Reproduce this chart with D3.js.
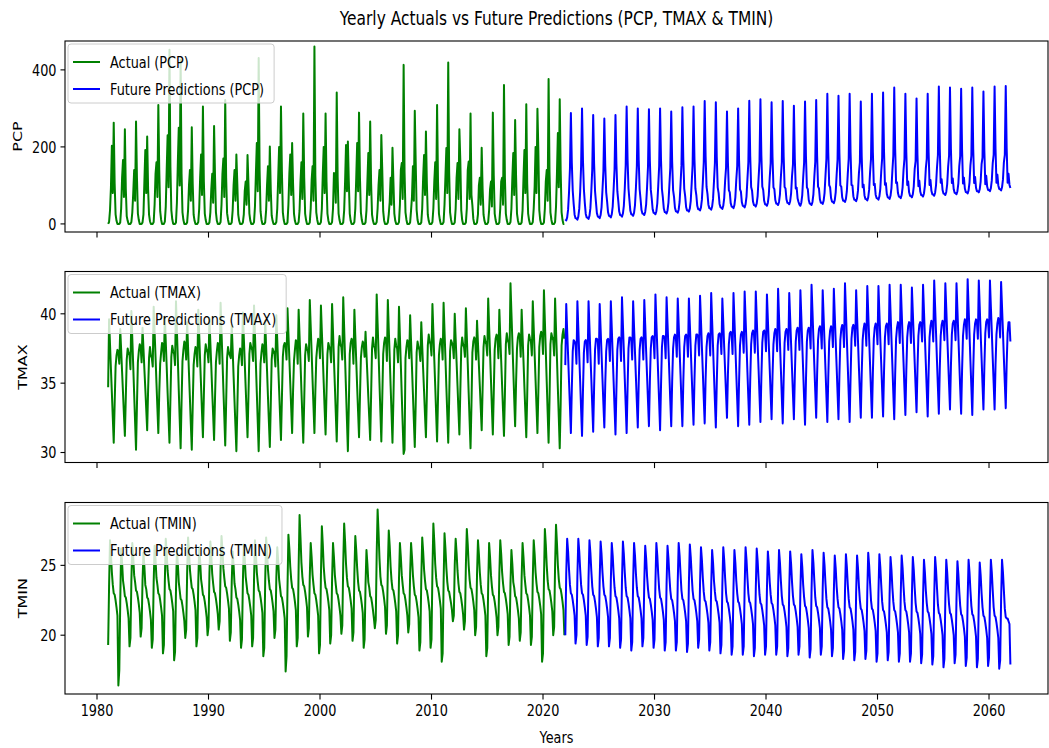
<!DOCTYPE html>
<html>
<head>
<meta charset="utf-8">
<script src="https://cdn.jsdelivr.net/npm/d3@7"></script>
<style>
body { margin: 0; background: #fff; }
svg { display: block; font-family: "DejaVu Sans", sans-serif; }
</style>
</head>
<body>
<script>
(function () {
'use strict';

// monthly series, one row per year (Jan..Dec)
var actualStart = 1981;
var futureStart = 2022;
var yearTicks = [1980, 1990, 2000, 2010, 2020, 2030, 2040, 2050, 2060];

var pcpActual = [
  0, 5, 35, 95, 203, 80, 263, 105, 25, 8, 0, 0,
  0, 4, 40, 120, 166, 70, 246, 90, 20, 8, 0, 0,
  0, 5, 30, 80, 140, 60, 266, 120, 27, 10, 0, 0,
  0, 4, 25, 110, 192, 80, 227, 90, 24, 7, 0, 0,
  0, 5, 50, 130, 160, 70, 309, 140, 33, 11, 0, 0,
  0, 6, 45, 140, 230, 95, 452, 150, 36, 12, 0, 0,
  0, 4, 55, 160, 250, 100, 426, 130, 30, 10, 0, 0,
  0, 4, 35, 100, 140, 60, 251, 105, 24, 8, 0, 0,
  0, 5, 40, 120, 180, 75, 305, 110, 27, 10, 0, 0,
  0, 4, 30, 90, 130, 55, 254, 125, 30, 8, 0, 0,
  0, 5, 50, 130, 170, 70, 322, 120, 28, 11, 0, 0,
  0, 4, 35, 100, 140, 60, 180, 105, 24, 8, 0, 0,
  0, 4, 25, 85, 110, 50, 179, 105, 27, 8, 0, 0,
  0, 5, 45, 130, 210, 85, 431, 140, 33, 11, 0, 0,
  0, 4, 35, 100, 150, 60, 201, 90, 22, 8, 0, 0,
  0, 5, 40, 120, 200, 80, 305, 135, 30, 10, 0, 0,
  0, 4, 50, 130, 180, 75, 210, 105, 27, 8, 0, 0,
  0, 5, 35, 110, 160, 65, 287, 120, 27, 10, 0, 0,
  0, 4, 40, 114, 150, 60, 461, 125, 30, 11, 0, 0,
  0, 5, 40, 130, 200, 80, 287, 110, 27, 9, 0, 0,
  0, 5, 40, 132, 130, 55, 341, 120, 27, 10, 0, 0,
  0, 4, 35, 110, 205, 85, 214, 110, 27, 8, 0, 0,
  0, 5, 40, 120, 210, 85, 289, 120, 30, 10, 0, 0,
  0, 4, 35, 110, 184, 75, 266, 105, 24, 8, 0, 0,
  0, 5, 40, 100, 140, 60, 231, 140, 33, 9, 0, 0,
  0, 4, 25, 57, 120, 50, 198, 110, 27, 8, 0, 0,
  0, 5, 50, 140, 158, 65, 413, 135, 30, 11, 0, 0,
  0, 4, 35, 71, 150, 60, 294, 160, 36, 10, 0, 0,
  0, 4, 40, 120, 179, 75, 240, 105, 24, 8, 0, 0,
  0, 5, 40, 110, 160, 65, 309, 110, 27, 10, 0, 0,
  0, 5, 50, 123, 197, 80, 419, 135, 30, 11, 0, 0,
  0, 4, 40, 120, 158, 65, 246, 165, 36, 10, 0, 0,
  0, 4, 40, 140, 162, 65, 287, 75, 48, 13, 0, 0,
  0, 4, 25, 100, 120, 50, 198, 90, 24, 8, 0, 0,
  0, 5, 35, 90, 110, 45, 289, 125, 27, 10, 0, 0,
  0, 4, 40, 110, 120, 50, 361, 120, 27, 10, 0, 0,
  0, 5, 40, 120, 184, 75, 270, 125, 27, 9, 0, 0,
  0, 4, 35, 120, 192, 80, 311, 105, 27, 10, 0, 0,
  0, 5, 40, 97, 200, 80, 299, 190, 36, 10, 0, 0,
  0, 4, 40, 110, 140, 60, 376, 135, 30, 11, 0, 0,
  0, 5, 45, 130, 236, 95, 324, 140, 30, 10, 0, 0
];

var pcpFuture = [
  12, 9, 17, 37, 82, 144, 288, 158, 86, 52, 24, 15,
  14, 11, 19, 39, 84, 150, 300, 165, 90, 54, 26, 17,
  16, 13, 21, 41, 86, 142, 283, 156, 85, 56, 28, 19,
  18, 15, 23, 43, 88, 137, 274, 151, 82, 58, 30, 21,
  20, 17, 25, 45, 90, 142, 283, 156, 85, 60, 32, 23,
  22, 19, 27, 47, 92, 153, 305, 168, 92, 62, 34, 25,
  24, 21, 29, 49, 94, 150, 300, 165, 90, 64, 36, 27,
  26, 23, 31, 51, 96, 149, 298, 164, 89, 66, 38, 29,
  28, 25, 33, 53, 98, 150, 300, 165, 90, 68, 40, 31,
  30, 27, 35, 55, 100, 146, 292, 161, 88, 70, 42, 33,
  32, 29, 37, 57, 102, 152, 303, 167, 91, 72, 44, 35,
  35, 32, 40, 60, 105, 153, 305, 168, 92, 75, 47, 38,
  38, 35, 43, 63, 108, 160, 319, 175, 96, 78, 50, 41,
  40, 37, 45, 65, 110, 158, 316, 174, 95, 80, 52, 43,
  42, 39, 47, 67, 112, 146, 292, 161, 88, 82, 54, 45,
  44, 41, 49, 69, 114, 150, 300, 165, 90, 84, 56, 47,
  46, 43, 51, 71, 116, 160, 320, 176, 96, 86, 58, 49,
  48, 45, 53, 73, 118, 162, 324, 178, 97, 88, 60, 51,
  50, 47, 55, 75, 120, 158, 316, 174, 95, 90, 62, 53,
  52, 49, 57, 77, 122, 160, 319, 175, 96, 92, 64, 55,
  54, 51, 59, 79, 124, 154, 307, 169, 92, 94, 66, 57,
  50, 47, 55, 75, 120, 159, 318, 175, 95, 90, 62, 53,
  52, 49, 57, 77, 122, 161, 322, 177, 97, 92, 64, 55,
  55, 52, 60, 80, 125, 169, 338, 186, 101, 95, 67, 58,
  57, 54, 62, 82, 127, 167, 333, 183, 100, 97, 69, 60,
  60, 57, 65, 85, 130, 169, 338, 186, 101, 100, 72, 63,
  62, 59, 67, 87, 132, 159, 318, 175, 95, 102, 74, 65,
  64, 61, 69, 89, 134, 169, 338, 186, 101, 104, 76, 67,
  66, 63, 71, 91, 136, 171, 341, 188, 102, 106, 78, 69,
  68, 65, 73, 93, 138, 177, 354, 195, 106, 108, 80, 71,
  70, 67, 75, 95, 140, 169, 338, 186, 101, 110, 82, 73,
  72, 69, 77, 97, 142, 163, 326, 179, 98, 112, 84, 75,
  74, 71, 79, 99, 144, 169, 338, 186, 101, 114, 86, 77,
  76, 73, 81, 101, 146, 179, 357, 196, 107, 116, 88, 79,
  78, 75, 83, 103, 148, 177, 354, 195, 106, 118, 90, 81,
  80, 77, 85, 105, 150, 176, 351, 193, 105, 120, 92, 83,
  82, 79, 87, 107, 152, 177, 354, 195, 106, 122, 94, 85,
  85, 82, 90, 110, 155, 172, 344, 189, 103, 125, 97, 88,
  88, 85, 93, 113, 158, 179, 357, 196, 107, 128, 100, 91,
  90, 87, 95, 115, 160, 179, 358, 197, 107, 130, 102, 93
];

var tmaxActual = [
  34.7, 39.6, 37.8, 36.0, 34.3, 32.5, 30.7, 33.5, 36.2, 37.0, 37.4, 37.2,
  36.4, 38.9, 37.4, 35.8, 34.3, 32.7, 31.2, 34.0, 36.7, 37.5, 37.2, 37.0,
  36.0, 40.2, 38.2, 36.2, 34.2, 32.2, 30.2, 33.4, 36.5, 37.3, 37.8, 37.6,
  36.5, 39.0, 37.5, 36.0, 34.6, 33.1, 31.6, 34.5, 36.8, 37.6, 37.0, 36.8,
  36.2, 40.5, 38.7, 36.9, 35.0, 33.2, 31.4, 34.3, 36.4, 37.2, 37.9, 37.7,
  36.6, 39.8, 38.0, 36.2, 34.3, 32.5, 30.7, 33.8, 36.9, 37.7, 37.3, 37.1,
  36.3, 40.9, 38.8, 36.7, 34.5, 32.4, 30.3, 33.6, 36.6, 37.4, 38.0, 37.8,
  36.7, 39.4, 37.6, 35.7, 33.9, 32.0, 30.2, 33.3, 36.3, 37.1, 37.6, 37.4,
  36.2, 40.3, 38.5, 36.6, 34.8, 32.9, 31.1, 34.1, 37.0, 37.8, 37.4, 37.2,
  36.5, 39.7, 37.9, 36.2, 34.4, 32.7, 30.9, 33.9, 36.5, 37.3, 37.9, 37.7,
  36.4, 40.8, 38.7, 36.7, 34.6, 32.6, 30.5, 33.6, 36.8, 37.6, 37.2, 37.0,
  36.8, 39.2, 37.4, 35.5, 33.7, 31.9, 30.1, 33.1, 36.2, 37.0, 37.5, 37.3,
  36.3, 40.1, 38.3, 36.5, 34.7, 32.9, 31.1, 34.1, 37.1, 37.9, 37.6, 37.4,
  36.6, 40.6, 38.5, 36.4, 34.3, 32.2, 30.1, 33.2, 36.4, 37.2, 37.8, 37.6,
  36.5, 39.5, 37.7, 35.9, 34.0, 32.2, 30.4, 33.4, 36.7, 37.5, 37.3, 37.1,
  36.2, 39.9, 38.1, 36.3, 34.5, 32.7, 30.9, 33.9, 36.9, 37.7, 37.9, 37.7,
  36.7, 40.4, 38.6, 36.8, 35.0, 33.2, 31.4, 34.4, 36.6, 37.4, 38.1, 37.9,
  36.4, 40.3, 38.4, 36.5, 34.5, 32.6, 30.7, 33.7, 37.0, 37.8, 37.5, 37.3,
  36.6, 41.0, 39.1, 37.2, 35.2, 33.3, 31.4, 34.4, 36.8, 37.6, 38.2, 38.0,
  36.8, 40.6, 38.7, 36.9, 35.0, 33.1, 31.3, 34.3, 37.1, 37.9, 37.6, 37.4,
  36.5, 40.7, 38.7, 36.7, 34.8, 32.8, 30.8, 33.8, 37.6, 38.4, 37.8, 37.6,
  36.7, 41.2, 39.0, 36.7, 34.5, 32.3, 30.1, 33.3, 37.1, 37.9, 38.2, 38.0,
  36.4, 40.3, 38.4, 36.6, 34.7, 32.9, 31.1, 34.0, 36.8, 37.6, 38.0, 37.8,
  36.9, 38.7, 37.1, 35.6, 34.0, 32.5, 30.9, 34.1, 37.5, 38.3, 37.7, 37.5,
  36.8, 41.4, 39.3, 37.2, 35.0, 32.9, 30.8, 33.9, 37.1, 37.9, 38.3, 38.1,
  36.6, 41.0, 38.9, 36.9, 34.8, 32.8, 30.7, 33.8, 37.4, 38.2, 37.7, 37.5,
  36.5, 40.5, 38.4, 36.3, 34.1, 32.0, 29.9, 30.2, 36.8, 37.6, 38.1, 37.9,
  36.8, 39.9, 38.0, 36.1, 34.2, 32.3, 30.4, 33.5, 37.2, 38.0, 37.6, 37.4,
  36.6, 39.4, 37.7, 36.0, 34.4, 32.7, 31.1, 34.2, 37.7, 38.5, 38.0, 37.8,
  37.0, 40.7, 38.7, 36.7, 34.8, 32.8, 30.8, 33.9, 37.0, 37.8, 38.2, 38.0,
  36.7, 40.8, 38.8, 36.8, 34.7, 32.7, 30.7, 33.8, 37.3, 38.1, 37.9, 37.7,
  36.8, 40.0, 38.2, 36.5, 34.8, 33.0, 31.3, 34.4, 37.5, 38.3, 37.8, 37.6,
  36.9, 40.4, 38.4, 36.4, 34.3, 32.3, 30.3, 33.4, 37.2, 38.0, 38.3, 38.1,
  36.7, 39.5, 37.9, 36.3, 34.8, 33.2, 31.6, 34.6, 37.6, 38.4, 38.0, 37.8,
  37.0, 41.1, 39.1, 37.2, 35.2, 33.2, 31.3, 34.3, 37.4, 38.2, 38.5, 38.3,
  36.8, 40.3, 38.4, 36.6, 34.8, 33.0, 31.2, 34.2, 37.8, 38.6, 38.1, 37.9,
  37.1, 42.2, 40.1, 38.1, 36.0, 33.9, 31.9, 35.0, 37.5, 38.3, 38.6, 38.4,
  36.9, 40.3, 38.4, 36.6, 34.7, 32.9, 31.1, 34.1, 37.7, 38.5, 38.2, 38.0,
  37.0, 40.9, 39.0, 37.1, 35.2, 33.3, 31.4, 34.4, 37.6, 38.4, 38.7, 38.5,
  37.1, 41.7, 39.5, 37.3, 35.1, 32.9, 30.7, 33.8, 37.8, 38.6, 38.3, 38.1,
  37.0, 41.1, 38.9, 36.8, 34.6, 32.5, 30.3, 33.5, 37.7, 38.5, 38.9, 38.2
];

var tmaxFuture = [
  36.3, 40.7, 38.8, 37.0, 35.1, 33.3, 31.4, 34.6, 37.3, 38.1, 38.0, 37.8,
  36.4, 40.9, 39.0, 37.0, 35.1, 33.1, 31.2, 34.4, 37.2, 38.0, 38.1, 37.9,
  36.5, 40.9, 39.0, 37.1, 35.3, 33.4, 31.5, 34.7, 37.4, 38.2, 38.2, 38.0,
  36.4, 40.7, 38.9, 37.1, 35.3, 33.5, 31.8, 35.0, 37.3, 38.1, 38.2, 38.0,
  36.6, 40.9, 39.0, 37.0, 35.1, 33.2, 31.3, 34.5, 37.4, 38.2, 38.3, 38.1,
  36.6, 41.2, 39.2, 37.3, 35.3, 33.4, 31.4, 34.6, 37.5, 38.3, 38.3, 38.1,
  36.7, 40.9, 39.0, 37.2, 35.4, 33.6, 31.8, 35.0, 37.4, 38.2, 38.3, 38.1,
  36.7, 41.0, 39.2, 37.3, 35.5, 33.7, 31.9, 35.1, 37.5, 38.3, 38.4, 38.2,
  36.8, 41.4, 39.4, 37.5, 35.5, 33.6, 31.6, 34.8, 37.6, 38.4, 38.4, 38.2,
  36.8, 41.2, 39.3, 37.5, 35.6, 33.7, 31.9, 35.1, 37.5, 38.3, 38.5, 38.3,
  36.9, 41.1, 39.3, 37.4, 35.6, 33.7, 31.9, 35.1, 37.6, 38.4, 38.5, 38.3,
  36.9, 41.1, 39.3, 37.5, 35.6, 33.8, 32.0, 35.2, 37.7, 38.5, 38.5, 38.3,
  37.0, 41.3, 39.5, 37.6, 35.8, 33.9, 32.1, 35.3, 37.6, 38.4, 38.6, 38.4,
  37.0, 41.5, 39.5, 37.6, 35.6, 33.7, 31.8, 35.0, 37.7, 38.5, 38.6, 38.4,
  37.1, 41.1, 39.4, 37.6, 35.9, 34.2, 32.5, 35.6, 37.8, 38.6, 38.7, 38.5,
  37.1, 41.5, 39.6, 37.7, 35.7, 33.8, 31.9, 35.1, 37.7, 38.5, 38.7, 38.5,
  37.2, 41.6, 39.7, 37.8, 35.8, 33.9, 32.0, 35.2, 37.8, 38.6, 38.8, 38.6,
  37.2, 41.6, 39.7, 37.8, 36.0, 34.1, 32.2, 35.4, 37.9, 38.7, 38.8, 38.6,
  37.3, 41.4, 39.6, 37.8, 36.0, 34.2, 32.4, 35.5, 37.8, 38.6, 38.9, 38.7,
  37.3, 41.8, 39.8, 37.9, 36.0, 34.0, 32.1, 35.3, 37.9, 38.7, 38.9, 38.7,
  37.4, 41.5, 39.7, 37.8, 36.0, 34.2, 32.4, 35.5, 38.0, 38.8, 39.0, 38.8,
  37.4, 41.7, 39.8, 37.8, 35.9, 33.9, 32.0, 35.2, 38.0, 38.8, 39.0, 38.8,
  37.5, 42.1, 40.2, 38.2, 36.3, 34.4, 32.5, 35.6, 38.1, 38.9, 39.1, 38.9,
  37.5, 41.7, 39.8, 37.9, 36.0, 34.1, 32.2, 35.4, 38.0, 38.8, 39.1, 38.9,
  37.6, 41.8, 39.9, 38.0, 36.2, 34.3, 32.4, 35.6, 38.1, 38.9, 39.2, 39.0,
  37.6, 42.2, 40.2, 38.2, 36.2, 34.2, 32.2, 35.4, 38.2, 39.0, 39.2, 39.0,
  37.7, 41.7, 39.8, 38.0, 36.1, 34.3, 32.5, 35.7, 38.1, 38.9, 39.3, 39.1,
  37.7, 42.0, 40.1, 38.2, 36.3, 34.4, 32.5, 35.7, 38.2, 39.0, 39.3, 39.1,
  37.8, 42.0, 40.1, 38.2, 36.4, 34.5, 32.6, 35.8, 38.3, 39.1, 39.3, 39.1,
  37.8, 42.1, 40.2, 38.2, 36.3, 34.3, 32.4, 35.6, 38.2, 39.0, 39.4, 39.2,
  37.9, 42.1, 40.2, 38.3, 36.5, 34.6, 32.7, 35.9, 38.3, 39.1, 39.4, 39.2,
  37.9, 41.9, 40.1, 38.3, 36.5, 34.7, 32.9, 36.0, 38.4, 39.2, 39.4, 39.2,
  38.0, 42.1, 40.2, 38.3, 36.4, 34.5, 32.6, 35.8, 38.3, 39.1, 39.5, 39.3,
  38.0, 42.4, 40.5, 38.6, 36.6, 34.7, 32.8, 36.0, 38.4, 39.2, 39.5, 39.3,
  38.1, 42.2, 40.4, 38.5, 36.7, 34.9, 33.1, 36.2, 38.5, 39.3, 39.5, 39.3,
  38.1, 42.2, 40.3, 38.4, 36.5, 34.6, 32.8, 35.9, 38.4, 39.2, 39.6, 39.4,
  38.2, 42.5, 40.5, 38.6, 36.6, 34.7, 32.7, 35.9, 38.5, 39.3, 39.6, 39.4,
  38.2, 42.4, 40.5, 38.6, 36.8, 34.9, 33.1, 36.2, 38.6, 39.4, 39.6, 39.4,
  38.3, 42.4, 40.5, 38.7, 36.8, 35.0, 33.1, 36.3, 38.5, 39.3, 39.7, 39.5,
  38.3, 42.3, 40.5, 38.7, 36.8, 35.0, 33.2, 36.4, 38.6, 39.4, 39.4, 38.0
];

var tminActual = [
  19.3, 23.5, 26.8, 25.8, 24.5, 23.6, 23.0, 22.9, 22.5, 22.0, 21.4, 16.4,
  17.5, 22.3, 26.2, 25.2, 23.9, 23.4, 22.8, 22.7, 22.3, 21.8, 21.2, 19.2,
  19.8, 23.9, 26.6, 25.6, 24.3, 23.8, 23.2, 23.1, 22.7, 22.2, 21.6, 19.9,
  20.5, 23.9, 25.9, 24.9, 23.6, 23.3, 22.7, 22.6, 22.2, 21.7, 21.1, 19.1,
  19.7, 23.8, 26.4, 25.4, 24.1, 23.6, 23.0, 22.9, 22.5, 22.0, 21.4, 18.7,
  19.3, 23.8, 26.9, 25.9, 24.6, 23.9, 23.3, 23.2, 22.8, 22.3, 21.7, 18.2,
  18.8, 23.2, 26.1, 25.1, 23.8, 23.2, 22.6, 22.5, 22.1, 21.6, 21.0, 19.8,
  20.4, 24.4, 27.0, 26.0, 24.7, 24.0, 23.4, 23.3, 22.9, 22.4, 21.8, 19.2,
  19.8, 23.8, 26.3, 25.3, 24.0, 23.5, 22.9, 22.8, 22.4, 21.9, 21.3, 20.0,
  20.6, 24.4, 26.7, 25.7, 24.4, 23.7, 23.1, 23.0, 22.6, 22.1, 21.5, 20.4,
  21.0, 24.8, 27.1, 26.1, 24.8, 24.1, 23.5, 23.4, 23.0, 22.5, 21.9, 19.6,
  20.2, 23.8, 26.0, 25.0, 23.7, 23.3, 22.7, 22.6, 22.2, 21.7, 21.1, 19.1,
  19.7, 23.8, 26.5, 25.5, 24.2, 23.6, 23.0, 22.9, 22.5, 22.0, 21.4, 19.2,
  19.8, 24.0, 26.8, 25.8, 24.5, 23.8, 23.2, 23.1, 22.7, 22.2, 21.6, 18.5,
  19.1, 23.8, 27.0, 26.0, 24.7, 23.9, 23.3, 23.2, 22.8, 22.3, 21.7, 19.8,
  20.4, 24.1, 26.3, 25.3, 24.0, 23.4, 22.8, 22.7, 22.3, 21.8, 21.2, 17.4,
  18.5, 23.3, 27.2, 26.2, 24.9, 24.0, 23.4, 23.3, 22.9, 22.4, 21.8, 19.2,
  19.8, 24.9, 28.6, 27.0, 25.2, 24.2, 23.6, 23.5, 23.1, 22.6, 22.0, 19.9,
  20.5, 24.2, 26.6, 25.6, 24.3, 23.6, 23.0, 22.9, 22.5, 22.0, 21.4, 18.7,
  19.3, 24.3, 27.8, 26.5, 24.9, 24.0, 23.4, 23.3, 22.9, 22.4, 21.8, 19.4,
  20.0, 24.0, 26.6, 25.6, 24.3, 23.6, 23.0, 22.9, 22.5, 22.0, 21.4, 20.1,
  20.7, 25.1, 28.0, 26.7, 25.1, 24.1, 23.5, 23.4, 23.0, 22.5, 21.9, 19.6,
  20.2, 24.4, 27.1, 26.1, 24.8, 23.8, 23.2, 23.1, 22.7, 22.2, 21.6, 19.1,
  19.7, 23.6, 26.1, 25.1, 23.8, 23.4, 22.8, 22.7, 22.3, 21.8, 21.2, 20.5,
  21.1, 25.8, 29.0, 27.4, 25.5, 24.2, 23.6, 23.5, 23.1, 22.6, 22.0, 20.1,
  20.7, 24.8, 27.5, 26.4, 24.9, 23.9, 23.3, 23.2, 22.8, 22.3, 21.7, 19.4,
  20.0, 24.0, 26.6, 25.6, 24.3, 23.6, 23.0, 22.9, 22.5, 22.0, 21.4, 20.2,
  20.8, 24.4, 26.6, 25.6, 24.3, 23.5, 22.9, 22.8, 22.4, 21.9, 21.3, 18.9,
  19.5, 24.0, 27.0, 26.0, 24.7, 23.9, 23.3, 23.2, 22.8, 22.3, 21.7, 19.1,
  19.7, 24.6, 28.0, 26.7, 25.1, 24.1, 23.5, 23.4, 23.0, 22.5, 21.9, 18.1,
  18.7, 23.7, 27.3, 26.2, 24.8, 23.8, 23.2, 23.1, 22.7, 22.3, 21.8, 21.0,
  21.4, 25.0, 26.9, 25.9, 24.6, 23.7, 23.1, 23.0, 22.6, 22.1, 21.5, 20.4,
  21.0, 25.0, 27.6, 26.5, 25.0, 24.0, 23.4, 23.3, 22.9, 22.4, 21.8, 20.0,
  20.6, 24.4, 26.8, 25.8, 24.5, 23.6, 23.0, 22.9, 22.5, 22.0, 21.4, 18.5,
  19.1, 23.5, 26.6, 25.6, 24.3, 23.5, 22.9, 22.8, 22.4, 21.9, 21.3, 20.0,
  20.6, 24.4, 26.8, 25.8, 24.5, 23.7, 23.1, 23.0, 22.6, 22.1, 21.5, 19.3,
  19.9, 23.7, 26.1, 25.1, 23.8, 23.4, 22.8, 22.7, 22.3, 21.8, 21.2, 19.6,
  20.2, 24.1, 26.6, 25.6, 24.3, 23.6, 23.0, 22.9, 22.5, 22.0, 21.4, 19.3,
  19.9, 24.1, 26.8, 25.8, 24.5, 23.7, 23.1, 23.0, 22.6, 22.1, 21.5, 18.1,
  18.7, 23.9, 27.6, 26.5, 25.0, 23.9, 23.3, 23.2, 22.8, 22.3, 21.7, 20.0,
  20.6, 25.0, 27.9, 26.6, 25.0, 24.0, 23.4, 23.3, 22.9, 22.4, 21.8, 20.0
];

var tminFuture = [
  20.0, 24.4, 26.9, 26.0, 24.7, 23.6, 23.0, 22.9, 22.5, 22.0, 21.4, 19.4,
  20.0, 24.2, 26.9, 26.0, 24.7, 23.6, 23.0, 22.9, 22.5, 22.0, 21.4, 19.3,
  19.9, 24.1, 26.8, 25.9, 24.6, 23.5, 22.9, 22.8, 22.4, 21.9, 21.3, 19.2,
  19.8, 24.0, 26.7, 25.8, 24.5, 23.5, 22.9, 22.8, 22.4, 21.9, 21.3, 19.2,
  19.8, 23.9, 26.6, 25.7, 24.4, 23.4, 22.8, 22.7, 22.3, 21.8, 21.2, 19.1,
  19.7, 23.9, 26.7, 25.8, 24.5, 23.4, 22.8, 22.7, 22.3, 21.8, 21.2, 18.9,
  19.5, 23.8, 26.6, 25.7, 24.4, 23.4, 22.8, 22.7, 22.3, 21.8, 21.2, 19.2,
  19.8, 23.8, 26.4, 25.5, 24.2, 23.3, 22.7, 22.6, 22.2, 21.7, 21.1, 19.1,
  19.7, 23.8, 26.6, 25.7, 24.4, 23.3, 22.7, 22.6, 22.2, 21.7, 21.1, 18.9,
  19.5, 23.7, 26.4, 25.5, 24.2, 23.2, 22.6, 22.5, 22.1, 21.6, 21.0, 18.9,
  19.5, 23.8, 26.6, 25.7, 24.4, 23.2, 22.6, 22.5, 22.1, 21.6, 21.0, 18.8,
  19.4, 23.7, 26.5, 25.6, 24.3, 23.2, 22.6, 22.5, 22.1, 21.6, 21.0, 19.1,
  19.7, 23.7, 26.3, 25.4, 24.1, 23.1, 22.5, 22.4, 22.0, 21.5, 20.9, 18.9,
  19.5, 23.5, 26.1, 25.2, 23.9, 23.1, 22.5, 22.4, 22.0, 21.5, 20.9, 18.7,
  19.3, 23.5, 26.3, 25.4, 24.1, 23.0, 22.4, 22.3, 21.9, 21.4, 20.8, 18.6,
  19.2, 23.4, 26.1, 25.2, 23.9, 23.0, 22.4, 22.3, 21.9, 21.4, 20.8, 18.6,
  19.2, 23.4, 26.3, 25.4, 24.1, 23.0, 22.4, 22.3, 21.9, 21.4, 20.8, 18.5,
  19.1, 23.3, 26.2, 25.3, 24.0, 22.9, 22.3, 22.2, 21.8, 21.3, 20.7, 18.6,
  19.2, 23.3, 26.0, 25.1, 23.8, 22.9, 22.3, 22.2, 21.8, 21.3, 20.7, 18.6,
  19.2, 23.4, 26.1, 25.2, 23.9, 22.8, 22.2, 22.1, 21.7, 21.2, 20.6, 18.5,
  19.1, 23.3, 26.0, 25.1, 23.8, 22.8, 22.2, 22.1, 21.7, 21.2, 20.6, 18.6,
  19.2, 23.2, 25.8, 24.9, 23.6, 22.7, 22.1, 22.0, 21.6, 21.1, 20.5, 18.4,
  19.0, 23.2, 26.1, 25.2, 23.9, 22.7, 22.1, 22.0, 21.6, 21.1, 20.5, 18.6,
  19.2, 23.3, 25.9, 25.0, 23.7, 22.6, 22.0, 21.9, 21.5, 21.0, 20.4, 18.5,
  19.1, 23.1, 25.7, 24.8, 23.5, 22.6, 22.0, 21.9, 21.5, 21.0, 20.4, 18.3,
  18.9, 23.1, 25.8, 24.9, 23.6, 22.6, 22.0, 21.9, 21.5, 21.0, 20.4, 18.2,
  18.8, 23.0, 25.7, 24.8, 23.5, 22.5, 21.9, 21.8, 21.4, 20.9, 20.3, 18.3,
  18.9, 23.1, 25.9, 25.0, 23.7, 22.5, 21.9, 21.8, 21.4, 20.9, 20.3, 18.1,
  18.7, 23.0, 25.8, 24.9, 23.6, 22.4, 21.8, 21.7, 21.3, 20.8, 20.2, 18.2,
  18.8, 22.9, 25.6, 24.7, 23.4, 22.4, 21.8, 21.7, 21.3, 20.8, 20.2, 18.1,
  18.7, 22.9, 25.7, 24.8, 23.5, 22.4, 21.8, 21.7, 21.3, 20.8, 20.2, 18.1,
  18.7, 22.8, 25.6, 24.7, 23.4, 22.3, 21.7, 21.6, 21.2, 20.7, 20.1, 18.0,
  18.6, 22.7, 25.4, 24.5, 23.2, 22.3, 21.7, 21.6, 21.2, 20.7, 20.1, 17.9,
  18.5, 22.7, 25.6, 24.7, 23.4, 22.2, 21.6, 21.5, 21.1, 20.6, 20.0, 17.7,
  18.3, 22.6, 25.4, 24.5, 23.2, 22.2, 21.6, 21.5, 21.1, 20.6, 20.0, 18.0,
  18.6, 22.6, 25.3, 24.4, 23.1, 22.1, 21.5, 21.4, 21.0, 20.5, 19.9, 17.8,
  18.4, 22.6, 25.4, 24.5, 23.2, 22.1, 21.5, 21.4, 21.0, 20.5, 19.9, 17.7,
  18.3, 22.5, 25.2, 24.3, 23.0, 22.0, 21.4, 21.3, 20.9, 20.4, 19.8, 17.8,
  18.4, 22.6, 25.4, 24.5, 23.2, 22.0, 21.4, 21.3, 20.9, 20.4, 19.8, 17.6,
  18.2, 22.5, 25.4, 24.5, 23.2, 21.9, 21.3, 21.2, 21.2, 21.0, 20.8, 17.9
];

var width = 1049;
var height = 748;
var left = 65;
var right = 1048;
var squeeze = 0.804;   // the picture is narrower than it is tall, text too
var green = '#008000';
var blue = '#0000ff';

var svg = d3.select('body').append('svg')
  .attr('width', width)
  .attr('height', height);

var x = d3.scaleLinear().domain([1977.13, 2065.29]).range([left, right]);

function monthly(values, start){
  return values.map(function(v, i){ return {t: start + i / 12, v: v}; });
}

function squeezedText(g, tx, ty, str, size, anchor){
  return g.append('text')
    .attr('transform', 'translate(' + tx + ',' + ty + ') scale(' + squeeze + ',1)')
    .attr('font-size', size)
    .attr('text-anchor', anchor || 'start')
    .attr('fill', '#000')
    .text(str);
}

var panels = [
  {name: 'PCP', top: 41, bottom: 232, domain: [-21, 475], ticks: [0, 200, 400],
   actual: pcpActual, future: pcpFuture, labelX: 22},
  {name: 'TMAX', top: 271.5, bottom: 462.5, domain: [29.28, 43.05], ticks: [30, 35, 40],
   actual: tmaxActual, future: tmaxFuture, labelX: 27},
  {name: 'TMIN', top: 502.5, bottom: 694, domain: [15.79, 29.5], ticks: [20, 25],
   actual: tminActual, future: tminFuture, labelX: 27}
];

panels.forEach(function(p, idx){
  var y = d3.scaleLinear().domain(p.domain).range([p.bottom, p.top]);
  var g = svg.append('g');

  var line = d3.line()
    .x(function(d){ return x(d.t); })
    .y(function(d){ return y(d.v); });

  g.append('path')
    .datum(monthly(p.actual, actualStart))
    .attr('d', line)
    .attr('fill', 'none')
    .attr('stroke', green)
    .attr('stroke-width', 2)
    .attr('stroke-linejoin', 'round');

  g.append('path')
    .datum(monthly(p.future, futureStart))
    .attr('d', line)
    .attr('fill', 'none')
    .attr('stroke', blue)
    .attr('stroke-width', 2)
    .attr('stroke-linejoin', 'round');

  // frame
  g.append('rect')
    .attr('x', left).attr('y', p.top)
    .attr('width', right - left).attr('height', p.bottom - p.top)
    .attr('fill', 'none').attr('stroke', '#000').attr('stroke-width', 1.1);

  // x ticks on every panel, labels only on the last
  yearTicks.forEach(function(t){
    g.append('line')
      .attr('x1', x(t)).attr('x2', x(t))
      .attr('y1', p.bottom).attr('y2', p.bottom + 5.6)
      .attr('stroke', '#000').attr('stroke-width', 1.1);
    if(idx === panels.length - 1){
      squeezedText(g, x(t), p.bottom + 22, String(t), 16, 'middle');
    }
  });

  // y ticks
  p.ticks.forEach(function(t){
    g.append('line')
      .attr('x1', left - 4.5).attr('x2', left)
      .attr('y1', y(t)).attr('y2', y(t))
      .attr('stroke', '#000').attr('stroke-width', 1.1);
    squeezedText(g, left - 8.5, y(t) + 5.8, String(t), 16, 'end');
  });

  // y label, rotated
  g.append('text')
    .attr('transform', 'translate(' + p.labelX + ',' + ((p.top + p.bottom) / 2) + ') rotate(-90) scale(1,' + squeeze + ')')
    .attr('font-size', 16)
    .attr('text-anchor', 'middle')
    .text(p.name);

  // legend
  var lg = g.append('g');
  var box = lg.append('rect');
  var items = [
    {label: 'Actual (' + p.name + ')', color: green},
    {label: 'Future Predictions (' + p.name + ')', color: blue}
  ];
  var widest = 0;
  items.forEach(function(it, i){
    var cy = p.top + 21 + i * 27;
    lg.append('line')
      .attr('x1', 73).attr('x2', 100)
      .attr('y1', cy).attr('y2', cy)
      .attr('stroke', it.color).attr('stroke-width', 2);
    var t = squeezedText(lg, 110, cy + 5.8, it.label, 16, 'start');
    widest = Math.max(widest, t.node().getComputedTextLength() * squeeze);
  });
  box.attr('x', 68).attr('y', p.top + 3)
    .attr('width', 110 + widest + 10 - 68).attr('height', 59)
    .attr('rx', 3).attr('ry', 3)
    .attr('fill', '#fff').attr('fill-opacity', 0.8)
    .attr('stroke', '#cccccc').attr('stroke-width', 1);
});

squeezedText(svg, (left + right) / 2, 25, 'Yearly Actuals vs Future Predictions (PCP, TMAX & TMIN)', 19.2, 'middle');
squeezedText(svg, (left + right) / 2, 743, 'Years', 16, 'middle');

})();
</script>
</body>
</html>
